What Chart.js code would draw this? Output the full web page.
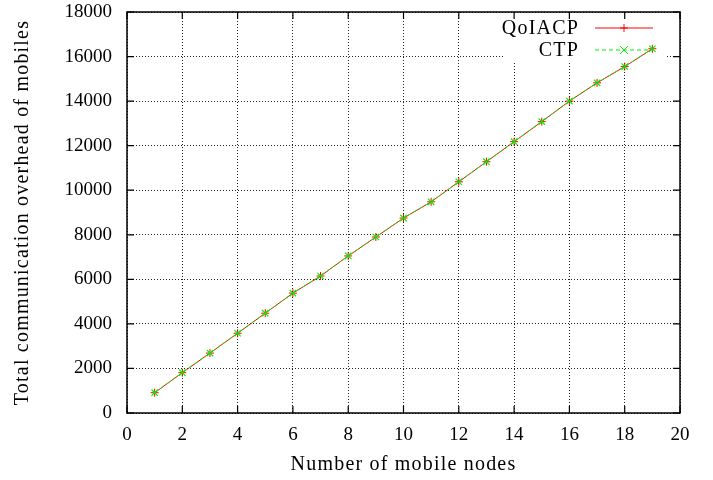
<!DOCTYPE html>
<html>
<head>
<meta charset="utf-8">
<script src="https://cdn.jsdelivr.net/npm/chart.js@4/dist/chart.umd.min.js"></script>
<style>
  html, body { margin: 0; padding: 0; background: #fff; }
  canvas { display: block; }
</style>
</head>
<body>
<canvas id="Grafico" width="713" height="480"></canvas>
<script>
const Nodos    = [1, 2, 3, 4, 5, 6, 7, 8, 9, 10, 11, 12, 13, 14, 15, 16, 17, 18, 19];
const QoIACP   = [910, 1810, 2690, 3580, 4480, 5380, 6150, 7050, 7900, 8750, 9480, 10380, 11280, 12180, 13080, 14000, 14820, 15550, 16350];
const CTP      = [910, 1810, 2690, 3580, 4480, 5380, 6150, 7050, 7900, 8750, 9480, 10380, 11280, 12180, 13080, 14000, 14820, 15550, 16350];
const TicksX   = [0, 2, 4, 6, 8, 10, 12, 14, 16, 18, 20];
const TicksY   = [0, 2000, 4000, 6000, 8000, 10000, 12000, 14000, 16000, 18000];
const TituloX  = 'Number of mobile nodes';
const TituloY  = 'Total communication overhead of mobiles';

const Fuente = '"Liberation Serif", "Times New Roman", serif';
const Rojo   = '#ff0000';
const Verde  = '#00ee00';

function DibujarMarca(Ctx, Estilo, X, Y, R) {
  Ctx.beginPath();
  if (Estilo === 'cross') {
    Ctx.moveTo(X - R, Y); Ctx.lineTo(X + R, Y);
    Ctx.moveTo(X, Y - R); Ctx.lineTo(X, Y + R);
  } else {
    Ctx.moveTo(X - R, Y - R); Ctx.lineTo(X + R, Y + R);
    Ctx.moveTo(X - R, Y + R); Ctx.lineTo(X + R, Y - R);
  }
  Ctx.stroke();
}

// caja blanca de la leyenda (tapa la grilla, no los datos)
const FondoLeyenda = {
  id: 'FondoLeyenda',
  beforeDatasetsDraw(C) {
    const A = C.chartArea, Ctx = C.ctx;
    Ctx.save();
    Ctx.fillStyle = '#fff';
    Ctx.fillRect(A.right - 177, A.top + 1, 164, 50);
    Ctx.restore();
  }
};

// borde completo, ticks hacia adentro, titulos y leyenda estilo gnuplot
const BordeGnuplot = {
  id: 'BordeGnuplot',
  afterDatasetsDraw(C) {
    const A = C.chartArea, Ctx = C.ctx;
    const SX = C.scales.x, SY = C.scales.y;
    Ctx.save();
    Ctx.strokeStyle = '#000';
    Ctx.lineWidth = 1.2;
    Ctx.beginPath();
    TicksX.forEach(V => {
      const P = SX.getPixelForValue(V);
      Ctx.moveTo(P, A.bottom); Ctx.lineTo(P, A.bottom - 7);
      Ctx.moveTo(P, A.top);    Ctx.lineTo(P, A.top + 7);
    });
    TicksY.forEach(V => {
      const P = SY.getPixelForValue(V);
      Ctx.moveTo(A.left, P);  Ctx.lineTo(A.left + 7, P);
      Ctx.moveTo(A.right, P); Ctx.lineTo(A.right - 7, P);
    });
    Ctx.stroke();
    Ctx.lineWidth = 1.5;
    Ctx.strokeRect(A.left, A.top, A.right - A.left, A.bottom - A.top);

    Ctx.font = '20px ' + Fuente;
    Ctx.letterSpacing = '1.2px';
    Ctx.fillStyle = '#000';
    Ctx.textBaseline = 'middle';

    // titulos
    Ctx.textAlign = 'center';
    Ctx.fillText(TituloX, (A.left + A.right) / 2, A.bottom + 52);
    Ctx.save();
    Ctx.translate(A.left - 104, (A.top + A.bottom) / 2);
    Ctx.rotate(-Math.PI / 2);
    Ctx.fillText(TituloY, 0, 0);
    Ctx.restore();

    // leyenda: texto a la izquierda, muestra a la derecha
    const XTexto = A.right - 101, X0 = A.right - 85, X1 = A.right - 27, XM = (X0 + X1) / 2;
    const Filas = [
      { Texto: 'QoIACP', Color: Rojo,  Dash: [],     Marca: 'cross',    Y: A.top + 16 },
      { Texto: 'CTP',    Color: Verde, Dash: [4, 3], Marca: 'crossRot', Y: A.top + 38 }
    ];
    Ctx.textAlign = 'right';
    Filas.forEach(F => {
      Ctx.fillStyle = '#000';
      Ctx.fillText(F.Texto, XTexto, F.Y + 1);
      Ctx.strokeStyle = F.Color;
      Ctx.lineWidth = 1;
      Ctx.setLineDash(F.Dash);
      Ctx.beginPath(); Ctx.moveTo(X0, F.Y); Ctx.lineTo(X1, F.Y); Ctx.stroke();
      Ctx.setLineDash([]);
      DibujarMarca(Ctx, F.Marca, XM, F.Y, 4);
    });
    Ctx.restore();
  }
};

const Borde = { display: false, dash: [1, 2] };
const FuenteTicks = { family: Fuente, size: 19 };

new Chart(document.getElementById('Grafico').getContext('2d'), {
  type: 'line',
  data: {
    labels: Nodos,
    datasets: [
      {
        label: 'QoIACP',
        data: Nodos.map((N, I) => ({ x: N, y: QoIACP[I] })),
        borderColor: Rojo,
        borderWidth: 1,
        pointStyle: 'cross',
        pointRadius: 4,
        pointBorderColor: Rojo,
        pointBorderWidth: 1,
        tension: 0,
        order: 1
      },
      {
        label: 'CTP',
        data: Nodos.map((N, I) => ({ x: N, y: CTP[I] })),
        borderColor: Verde,
        borderWidth: 1,
        borderDash: [4, 3],
        pointStyle: 'crossRot',
        pointRadius: 4.5,
        pointBorderColor: Verde,
        pointBorderWidth: 1.2,
        tension: 0,
        order: 0
      }
    ]
  },
  options: {
    responsive: false,
    animation: false,
    layout: { padding: { top: 12, right: 33, left: 0, bottom: 0 } },
    plugins: { legend: { display: false }, tooltip: { enabled: false } },
    scales: {
      x: {
        type: 'linear',
        min: 0, max: 20,
        afterBuildTicks: S => { S.ticks = TicksX.map(V => ({ value: V })); },
        afterFit: S => { S.height = 67; },
        grid: { color: '#222', lineWidth: 1, drawTicks: true, tickLength: 11, tickColor: 'transparent' },
        border: Borde,
        ticks: { color: '#000', font: FuenteTicks, padding: 0, maxRotation: 0, callback: V => String(V) }
      },
      y: {
        type: 'linear',
        min: 0, max: 18000,
        afterBuildTicks: S => { S.ticks = TicksY.map(V => ({ value: V })); },
        afterFit: S => { S.width = 127; },
        grid: { color: '#222', lineWidth: 1, drawTicks: true, tickLength: 15, tickColor: 'transparent' },
        border: Borde,
        ticks: { color: '#000', font: FuenteTicks, padding: 0, callback: V => String(V) }
      }
    }
  },
  plugins: [FondoLeyenda, BordeGnuplot]
});
</script>
</body>
</html>
